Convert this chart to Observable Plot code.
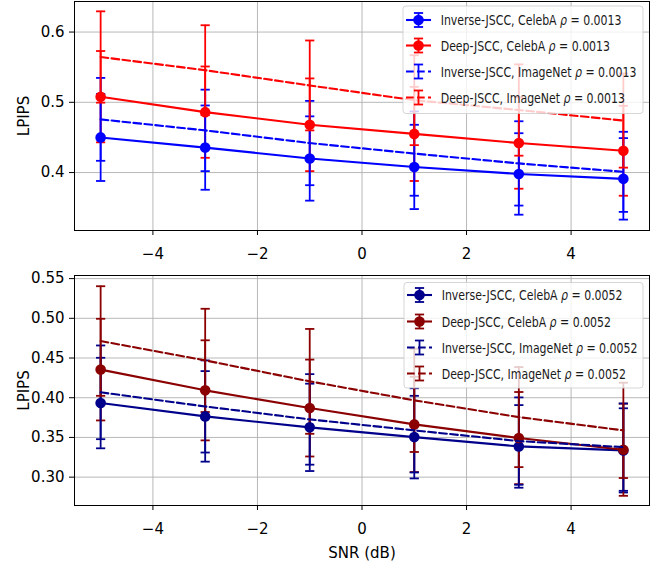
<!DOCTYPE html>
<html><head><meta charset="utf-8">
<script src="https://cdn.jsdelivr.net/npm/d3@7"></script>
<script src="https://cdn.jsdelivr.net/npm/@observablehq/plot@0.6"></script>
<style>
body{margin:0;background:#fff;}
#wrap{position:relative;width:667px;height:570px;overflow:hidden;background:#fff;}
#wrap > svg{position:absolute;left:0;}
</style></head><body><div id="wrap"></div>
<script>
// x values (SNR in dB)
const snr = [-5, -3, -1, 1, 3, 5];
const xTicks = [-4, -2, 0, 2, 4];
const yTicksTop = [0.4, 0.5, 0.6];
const yTicksBottom = [0.30, 0.35, 0.40, 0.45, 0.50, 0.55];

// top panel, rho = 0.0013
const invCelebA13 = [0.450, 0.4355, 0.420, 0.408, 0.398, 0.391];
const invCelebA13Err = [0.062, 0.060, 0.060, 0.060, 0.058, 0.058];
const deepCelebA13 = [0.508, 0.486, 0.468, 0.455, 0.442, 0.431];
const deepCelebA13Err = [0.065, 0.065, 0.066, 0.067, 0.065, 0.064];
const invImageNet13 = [0.4757, 0.460, 0.442, 0.427, 0.413, 0.401];
const invImageNet13Err = [0.059, 0.058, 0.060, 0.060, 0.060, 0.057];
const deepImageNet13 = [0.5645, 0.5457, 0.524, 0.503, 0.489, 0.474];
const deepImageNet13Err = [0.065, 0.064, 0.064, 0.064, 0.065, 0.067];

// bottom panel, rho = 0.0052
const invCelebA52 = [0.3933, 0.3765, 0.3627, 0.3504, 0.3387, 0.3337];
const invCelebA52Err = [0.057, 0.057, 0.055, 0.052, 0.052, 0.053];
const deepCelebA52 = [0.4354, 0.4093, 0.387, 0.3664, 0.3492, 0.3345];
const deepCelebA52Err = [0.064, 0.063, 0.061, 0.060, 0.058, 0.058];
const invImageNet52 = [0.4068, 0.389, 0.3727, 0.3589, 0.3454, 0.3378];
const invImageNet52Err = [0.059, 0.058, 0.057, 0.053, 0.055, 0.055];
const deepImageNet52 = [0.4714, 0.447, 0.4206, 0.3967, 0.3756, 0.3589];
const deepImageNet52Err = [0.069, 0.065, 0.066, 0.065, 0.063, 0.060];

const seriesTop = [
  {name: "Inverse-JSCC, CelebA", rho: "0.0013", y: invCelebA13, err: invCelebA13Err, color: "#0000ff", dashed: false},
  {name: "Deep-JSCC, CelebA", rho: "0.0013", y: deepCelebA13, err: deepCelebA13Err, color: "#ff0000", dashed: false},
  {name: "Inverse-JSCC, ImageNet", rho: "0.0013", y: invImageNet13, err: invImageNet13Err, color: "#0000ff", dashed: true},
  {name: "Deep-JSCC, ImageNet", rho: "0.0013", y: deepImageNet13, err: deepImageNet13Err, color: "#ff0000", dashed: true}
];
const seriesBottom = [
  {name: "Inverse-JSCC, CelebA", rho: "0.0052", y: invCelebA52, err: invCelebA52Err, color: "#00008b", dashed: false},
  {name: "Deep-JSCC, CelebA", rho: "0.0052", y: deepCelebA52, err: deepCelebA52Err, color: "#8b0000", dashed: false},
  {name: "Inverse-JSCC, ImageNet", rho: "0.0052", y: invImageNet52, err: invImageNet52Err, color: "#00008b", dashed: true},
  {name: "Deep-JSCC, ImageNet", rho: "0.0052", y: deepImageNet52, err: deepImageNet52Err, color: "#8b0000", dashed: true}
];

const hcap = {draw(ctx, size) { const r = Math.sqrt(size / Math.PI); ctx.moveTo(-r, 0); ctx.lineTo(r, 0); }};
const fmtMinus = d => d < 0 ? "\u2212" + (-d) : String(d);

function panel(series, o) {
  const grid = {stroke: "#b0b0b0", strokeOpacity: 1, strokeWidth: 0.9};
  const marks = [Plot.gridX(xTicks, grid), Plot.gridY(o.yTicks, grid)];
  const tables = series.map(s => snr.map((x, i) => ({x, y: s.y[i], lo: s.y[i] - s.err[i], hi: s.y[i] + s.err[i]})));
  // error bars first (below all data lines, as in matplotlib)
  series.forEach((s, k) => {
    const rows = tables[k];
    marks.push(Plot.ruleX(rows, {x: "x", y1: "lo", y2: "hi", stroke: s.color, strokeWidth: 1.8}));
    marks.push(Plot.dot(rows, {x: "x", y: "lo", symbol: hcap, r: 4.6, stroke: s.color, strokeWidth: 1.8, fill: "none"}));
    marks.push(Plot.dot(rows, {x: "x", y: "hi", symbol: hcap, r: 4.6, stroke: s.color, strokeWidth: 1.8, fill: "none"}));
  });
  series.forEach((s, k) => {
    const rows = tables[k];
    const lineOpts = {x: "x", y: "y", stroke: s.color, strokeWidth: 2.1};
    if (s.dashed) lineOpts.strokeDasharray = "7.7,3.3";
    marks.push(Plot.line(rows, lineOpts));
    if (!s.dashed) marks.push(Plot.dot(rows, {x: "x", y: "y", r: 5.3, fill: s.color, stroke: "none"}));
  });
  marks.push(Plot.frame({stroke: "black", strokeWidth: 1}));
  marks.push(Plot.axisX(xTicks, {tickSize: 5, tickPadding: 13, tickFormat: fmtMinus,
    label: o.xLabel, labelAnchor: "center", labelOffset: o.xLabelOffset, labelArrow: "none"}));
  marks.push(Plot.axisY(o.yTicks, {tickSize: 5, tickPadding: 5, tickFormat: o.yFmt,
    label: "LPIPS", labelAnchor: "center", labelOffset: 56, labelArrow: "none"}));
  return Plot.plot({
    width: 667, height: o.height,
    marginLeft: 74, marginRight: 18, marginTop: o.marginTop, marginBottom: o.marginBottom,
    x: {domain: [-5.5, 5.5]},
    y: {domain: o.yDomain},
    style: {fontFamily: "DejaVu Sans", fontSize: "15px", background: "white", color: "black", overflow: "visible"},
    marks
  });
}

const wrap = document.getElementById("wrap");
const top1 = panel(seriesTop, {height: 262, marginTop: 1, marginBottom: 32, yDomain: [0.3175, 0.6435],
  yTicks: yTicksTop, yFmt: d3.format(".1f"), xLabel: null, xLabelOffset: 0});
top1.style.top = "0px";
wrap.appendChild(top1);
const bot = panel(seriesBottom, {height: 300, marginTop: 5, marginBottom: 65, yDomain: [0.2643, 0.5539],
  yTicks: yTicksBottom, yFmt: d3.format(".2f"), xLabel: "SNR (dB)", xLabelOffset: 52});
bot.style.top = "270px";
wrap.appendChild(bot);

// legends overlay
const ov = d3.select(wrap).append("svg").attr("width", 667).attr("height", 570)
  .style("top", "0px").style("pointer-events", "none")
  .style("font-family", "DejaVu Sans");

function legend(series, box, rowsY) {
  const g = ov.append("g");
  g.append("rect").attr("x", box.x).attr("y", box.y).attr("width", box.w).attr("height", box.h)
    .attr("rx", 3).attr("fill", "white").attr("fill-opacity", 0.8)
    .attr("stroke", "#cccccc").attr("stroke-opacity", 0.8);
  const texts = [];
  series.forEach((s, i) => {
    const cy = rowsY[i], hx0 = box.x + 3, hx1 = box.x + 28, hc = (hx0 + hx1) / 2;
    const ln = g.append("line").attr("x1", hx0).attr("x2", hx1).attr("y1", cy).attr("y2", cy)
      .attr("stroke", s.color).attr("stroke-width", 2.1);
    if (s.dashed) ln.attr("stroke-dasharray", "7.7,3.3");
    g.append("line").attr("x1", hc).attr("x2", hc).attr("y1", cy - 7).attr("y2", cy + 7)
      .attr("stroke", s.color).attr("stroke-width", 1.8);
    for (const dy of [-7, 7]) g.append("line").attr("x1", hc - 4.6).attr("x2", hc + 4.6)
      .attr("y1", cy + dy).attr("y2", cy + dy).attr("stroke", s.color).attr("stroke-width", 1.8);
    if (!s.dashed) g.append("circle").attr("cx", hc).attr("cy", cy).attr("r", 5.3).attr("fill", s.color);
    const t = g.append("text").attr("font-size", 13.5).attr("fill", "#1a1a1a");
    t.append("tspan").text(s.name + " ");
    t.append("tspan").attr("font-style", "italic").text("\u03c1");
    t.append("tspan").text(" = " + s.rho);
    texts.push({t, cy});
  });
  const len = texts[0].t.node().getComputedTextLength();
  const sx = 181 / len;
  for (const {t, cy} of texts) t.attr("transform", `translate(${box.x + 37.7},${cy + 5}) scale(${sx},1)`);
}
legend(seriesTop, {x: 403, y: 6, w: 240, h: 107.5}, [20, 45.5, 71.5, 97.5]);
legend(seriesBottom, {x: 404, y: 282.5, w: 239, h: 105.5}, [295, 321.5, 347.5, 373.5]);
</script></body></html>
